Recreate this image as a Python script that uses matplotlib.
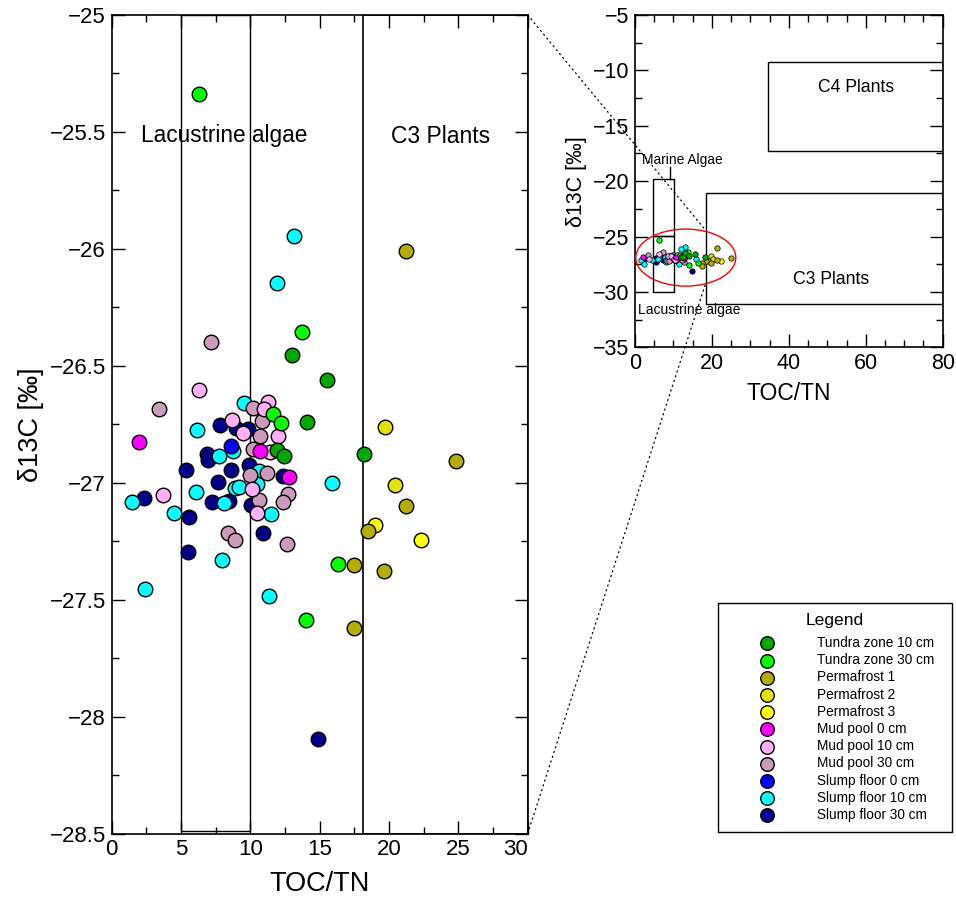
import matplotlib
matplotlib.use("Agg")
import matplotlib.pyplot as plt
from matplotlib.patches import Rectangle, Ellipse, ConnectionPatch
from matplotlib.ticker import MultipleLocator, FuncFormatter

plt.rcParams['font.family'] = ['Liberation Sans', 'DejaVu Sans']

# ---------------- data ----------------
tundra10_x = [13.02, 15.52, 14.10, 11.90, 12.45, 18.17]
tundra10_y = [-26.456, -26.559, -26.740, -26.861, -26.884, -26.876]

tundra30_x = [6.29, 13.70, 11.61, 12.18, 16.29, 13.99]
tundra30_y = [-25.338, -26.356, -26.707, -26.745, -27.346, -27.586]

perm1_x = [21.24, 24.85, 21.20, 18.50, 17.47, 19.63, 17.47]
perm1_y = [-26.010, -26.908, -27.100, -27.208, -27.352, -27.378, -27.620]

perm2_x = [19.70, 20.40]
perm2_y = [-26.763, -27.011]

perm3_x = [19.01, 22.30]
perm3_y = [-27.179, -27.245]

mud0_x = [1.95, 10.69, 12.81]
mud0_y = [-26.824, -26.864, -26.976]

mud10_x = [6.29, 3.70, 8.70, 9.44, 11.25, 11.00, 11.97, 11.41, 10.09, 10.45]
mud10_y = [-26.602, -27.054, -26.733, -26.786, -26.655, -26.683, -26.801, -26.868, -27.025, -27.130]

mud30_x = [7.16, 3.43, 8.36, 8.89, 12.64, 10.16, 10.81, 10.67, 10.21, 11.17, 9.95, 10.64, 12.73, 12.33]
mud30_y = [-26.398, -26.685, -27.214, -27.244, -27.262, -26.679, -26.737, -26.801, -26.854, -26.957,
           -26.968, -27.075, -27.050, -27.084]

slump0_x = [8.62]
slump0_y = [-26.844]

slump10_x = [13.12, 11.90, 15.86, 11.50, 11.36, 6.13, 1.44, 4.49, 2.40, 7.95, 7.71, 9.52, 8.77, 10.64,
             10.50, 8.89, 9.18, 6.08, 8.10]
slump10_y = [-25.943, -26.145, -27.001, -27.134, -27.485, -26.773, -27.081, -27.130, -27.455, -27.332,
             -26.887, -26.657, -26.864, -26.951, -27.007, -27.023, -27.018, -27.040, -27.087]

slump30_x = [5.36, 2.35, 5.60, 5.50, 10.89, 6.85, 6.97, 7.79, 8.94, 9.85, 8.58, 9.88, 12.33, 7.66, 7.21,
             8.48, 10.04, 14.87]
slump30_y = [-26.944, -27.067, -27.148, -27.298, -27.214, -26.878, -26.901, -26.753, -26.764, -26.772,
             -26.944, -26.924, -26.973, -26.997, -27.083, -27.080, -27.094, -28.094]

labels = ["Tundra zone 10 cm", "Tundra zone 30 cm", "Permafrost 1", "Permafrost 2", "Permafrost 3",
          "Mud pool 0 cm", "Mud pool 10 cm", "Mud pool 30 cm", "Slump floor 0 cm",
          "Slump floor 10 cm", "Slump floor 30 cm"]
colors = ["#00aa00", "#00ff00", "#b5ad00", "#e6e200", "#ffff00", "#ff00ff", "#ffb0f4", "#cc9abb",
          "#0000ff", "#00ffff", "#000088"]
xs = [tundra10_x, tundra30_x, perm1_x, perm2_x, perm3_x, mud0_x, mud10_x, mud30_x, slump0_x,
      slump10_x, slump30_x]
ys = [tundra10_y, tundra30_y, perm1_y, perm2_y, perm3_y, mud0_y, mud10_y, mud30_y, slump0_y,
      slump10_y, slump30_y]

main_xticks = [0, 5, 10, 15, 20, 25, 30]
main_yticks = [-28.5, -28, -27.5, -27, -26.5, -26, -25.5, -25]
inset_xticks = [0, 20, 40, 60, 80]
inset_yticks = [-35, -30, -25, -20, -15, -10, -5]

# ---------------- figure ----------------
W, H = 956, 899
fig = plt.figure(figsize=(W / 100, H / 100), dpi=100)

def frac(l, t, r, b):
    return [l / W, 1 - b / H, (r - l) / W, (b - t) / H]

ax = fig.add_axes(frac(111.7, 15, 527.7, 833.5))
ins = fig.add_axes(frac(635, 15, 942.7, 347.3))

fmt = FuncFormatter(lambda v, p: f"{v:g}".replace('-', '\u2212'))

def style(a, lab, lw=1.2):
    a.tick_params(which='both', direction='in', top=True, right=True, width=1.0, labelsize=lab, pad=4)
    a.tick_params(which='major', length=9.5)
    a.tick_params(which='minor', length=5)
    for s in a.spines.values():
        s.set_linewidth(lw)

handles = []
for i in reversed(range(len(labels))):
    h = ax.scatter(xs[i], ys[i], s=110, c=colors[i], edgecolors='black', linewidths=1.0,
                   zorder=3, label=labels[i])
    ins.scatter(xs[i], ys[i], s=15, c=colors[i], edgecolors='black', linewidths=0.5, zorder=3)
    handles.append(h)
handles = handles[::-1]

# main axes
ax.set_xlim(0, 30)
ax.set_ylim(-28.5, -25)
ax.set_xticks(main_xticks)
ax.set_yticks(main_yticks)
ax.xaxis.set_major_formatter(fmt)
ax.yaxis.set_major_formatter(fmt)
ax.xaxis.set_minor_locator(MultipleLocator(2.5))
ax.yaxis.set_minor_locator(MultipleLocator(0.25))
style(ax, 16)
ax.set_xlabel("TOC/TN", fontsize=19.5, labelpad=8)
ax.set_ylabel("δ13C [‰]", fontsize=19.5, labelpad=4)
lbls = ax.get_xticklabels()
lbls[-1].set_horizontalalignment('right')

ax.add_patch(Rectangle((5, -28.49), 5, 3.49, fill=False, edgecolor='black', lw=1.0, zorder=2))
ax.add_patch(Rectangle((18.15, -28.5), 11.85, 3.5, fill=False, edgecolor='black', lw=1.2, zorder=2))
ax.text(8.1, -25.515, "Lacustrine algae", fontsize=16.3, ha='center', va='center', zorder=4)
ax.text(23.7, -25.52, "C3 Plants", fontsize=16.5, ha='center', va='center', zorder=4)

# inset axes
ins.set_xlim(0, 80)
ins.set_ylim(-35, -5)
ins.set_xticks(inset_xticks)
ins.set_yticks(inset_yticks)
ins.xaxis.set_major_formatter(fmt)
ins.yaxis.set_major_formatter(fmt)
ins.xaxis.set_minor_locator(MultipleLocator(5))
ins.yaxis.set_minor_locator(MultipleLocator(2.5))
style(ins, 15.5)
ins.set_xlabel("TOC/TN", fontsize=16.5, labelpad=6)
ins.set_ylabel("δ13C [‰]", fontsize=15.5, labelpad=4)

ins.add_patch(Rectangle((34.5, -17.27), 45.5, 8.07, fill=False, edgecolor='black', lw=1.0))
ins.add_patch(Rectangle((18.4, -31.1), 61.6, 10.0, fill=False, edgecolor='black', lw=1.0))
ins.add_patch(Rectangle((4.8, -30.05), 5.3, 5.1, fill=False, edgecolor='black', lw=1.0))
ins.add_patch(Rectangle((4.8, -24.95), 5.3, 5.1, fill=False, edgecolor='black', lw=1.0))
ins.plot([9.1, 9.1], [-19.85, -18.7], color='black', lw=1.0)
ins.text(57.6, -11.56, "C4 Plants", fontsize=12.7, ha='center', va='center')
ins.text(51.1, -28.85, "C3 Plants", fontsize=12.7, ha='center', va='center')
ins.text(12.2, -18.1, "Marine Algae", fontsize=9.9, ha='center', va='center')
ins.text(14.2, -31.6, "Lacustrine algae", fontsize=10, ha='center', va='center')
ins.add_patch(Ellipse((13.2, -26.9), 26.0, 5.15, fill=False, edgecolor='red', lw=1.0, zorder=4))

# dotted connectors
for (xa, ya), (xb, yb) in [((30, -25), (18.4, -24.45)), ((30, -28.5), (18.3, -29.3))]:
    cp = ConnectionPatch(xyA=(xa, ya), coordsA=ax.transData, xyB=(xb, yb), coordsB=ins.transData,
                         linestyle=(0, (1, 3)), color='black', lw=0.9)
    fig.add_artist(cp)

# legend
fs = 9.8
lsp = 0.235
leg = fig.legend(handles, labels, loc='upper left',
                 bbox_to_anchor=(717.7 / W, 1 - 602.7 / H, (952.3 - 717.7) / W, 0.0),
                 mode='expand', title="Legend", fontsize=fs, title_fontsize=12.6,
                 frameon=True, fancybox=False, edgecolor='black', framealpha=1,
                 handlelength=5.8, handletextpad=0.75, labelspacing=lsp, borderpad=0.75,
                 borderaxespad=0, scatterpoints=1)
leg.get_frame().set_linewidth(1.0)
leg._legend_box.sep = lsp * fs + 3.5
for h in leg.legend_handles:
    h.set_sizes([95])

fig.savefig("out.png", dpi=100)
